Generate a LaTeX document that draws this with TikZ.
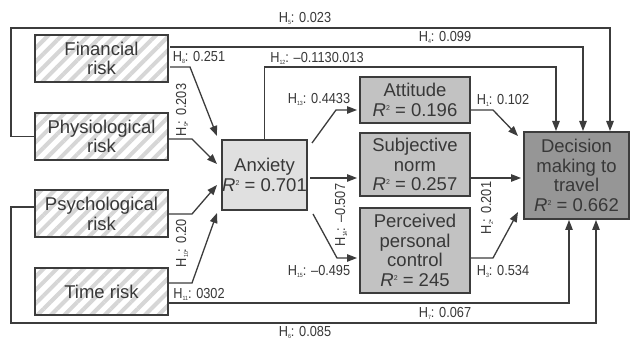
\documentclass[tikz,border=0pt]{standalone}
\usepackage{fontspec}
\setmainfont{Liberation Sans}
\newfontfamily\narrowfont[FakeStretch=0.88]{Liberation Sans}
\usepackage{xcolor}
\usepackage{tikz}
\usetikzlibrary{arrows.meta, patterns.meta}

\definecolor{boxline}{HTML}{3C3C3C}
\definecolor{txtgray}{HTML}{383838}
\definecolor{stripe}{HTML}{D6D6D6}
\definecolor{anxfill}{HTML}{E0E0E0}
\definecolor{midfill}{HTML}{C2C2C2}
\definecolor{decfill}{HTML}{969696}

\newcommand{\hyp}[2]{H\raisebox{-2pt}{\fontsize{6}{6}\selectfont #1}: #2}
\newcommand{\rsq}[1]{\textit{R}\raisebox{6pt}{\fontsize{7}{7}\selectfont 2} = #1}

\begin{document}
\begin{tikzpicture}[x=1pt, y=-1pt, >={Triangle[length=10pt,width=7.5pt]},
    box/.style={draw=boxline, line width=2pt, inner sep=0pt, align=center,
      text=txtgray, font=\fontsize{18.5}{19.5}\selectfont},
    riskbox/.style={box, minimum width=133pt, minimum height=47pt,
      pattern={Lines[angle=45, distance=9.5pt, line width=4pt]}, pattern color=stripe},
    midbox/.style={box, fill=midfill, minimum width=110pt},
    conn/.style={draw=boxline, line width=1.3pt},
    hlabel/.style={text=txtgray, inner sep=1pt, font=\narrowfont\fontsize{14.5}{15}\selectfont}]

    % fond
    \fill[white] (0,0) rectangle (632,338);

    % facteurs de risque
    \node[riskbox] (fin) at (101.5,58.5) {Financial\\risk};
    \node[riskbox] (phys) at (101.5,136.5) {Physiological\\risk};
    \node[riskbox] (psych) at (101.5,214) {Psychological\\risk};
    \node[riskbox] (time) at (101.5,291.5) {Time risk};

    % variables
    \node[box, fill=anxfill, minimum width=85pt, minimum height=70pt] (anx) at (264.5,175) {Anxiety\\\rsq{0.701}};
    \node[midbox, minimum height=46pt] (att) at (415,100) {Attitude\\\rsq{0.196}};
    \node[midbox, minimum height=63pt] (subj) at (415,164.5) {Subjective\\norm\\\rsq{0.257}};
    \node[midbox, minimum height=85pt] (ppc) at (415,250.5) {Perceived\\personal\\control\\\rsq{245}};
    \node[box, fill=decfill, minimum width=105pt, minimum height=87pt] (dec) at (576.5,175.5) {Decision\\making to\\travel\\\rsq{0.662}};

    % liens directs vers la décision
    \draw[conn, ->] (phys.west) -- (11,0 |- phys.west) |- (610,28) -- (610,0 |- dec.north);
    \draw[conn, ->] (fin.east |- 0,47) -- (583,47) -- (583,0 |- dec.north);
    \draw[conn, ->] (anx.north) |- (556,67) -- (556,0 |- dec.north);
    \draw[conn, ->] (psych.west |- 0,207) -- (11,207) |- (596,323) -- (596,0 |- dec.south);
    \draw[conn, ->] (time.east |- 0,303) -- (569,303) -- (569,0 |- dec.south);

    % risques -> anxiété
    \draw[conn, ->] (fin.east |- 0,67) -- (190,67) -- ([shift={(-4,-3)}]anx.north west);
    \draw[conn, ->] (phys.east |- 0,139) -- (192,139) -- ([shift={(-4,-11)}]anx.west);
    \draw[conn, ->] (psych.east) -- (192,214) -- ([shift={(-4,10)}]anx.west);
    \draw[conn, ->] (time.east |- 0,283) -- (192,283) -- ([shift={(-4,2)}]anx.south west);

    % anxiété -> attitudes
    \draw[conn, ->] ([shift={(4,4)}]anx.north east) -- (336,110) -- ([xshift=-2pt]att.west |- 0,110);
    \draw[conn, ->] ([xshift=2pt]anx.east |- 0,178) -- ([xshift=-2pt]subj.west |- 0,178);
    \draw[conn, ->] ([shift={(5,3)}]anx.south east) -- (337,258) -- ([xshift=-2pt]ppc.west |- 0,258);

    % attitudes -> décision
    \draw[conn, ->] (att.east |- 0,110) -- (493,110) -- ([shift={(-5,5)}]dec.north west);
    \draw[conn, ->] (subj.east |- 0,178) -- ([xshift=-2pt]dec.west |- 0,178);
    \draw[conn, ->] (ppc.east |- 0,258) -- (493,258) -- ([shift={(-5,-8)}]dec.south west);

    % coefficients
    \node[hlabel] (l5) at (305,18) {\hyp{5}{0.023}};
    \node[hlabel] (l4) at (445,37) {\hyp{4}{0.099}};
    \node[hlabel] (l12) at (317,58) {\hyp{12}{–0.1130.013}};
    \node[hlabel] (l8) at (199,57) {\hyp{8}{0.251}};
    \node[hlabel, rotate=90] (l9) at (182,110) {\hyp{9}{0.203}};
    \node[hlabel, rotate=90] (l10) at (182,243) {\hyp{10}{0.20}};
    \node[hlabel] (l11) at (199,294) {\hyp{11}{0302}};
    \node[hlabel] (l13) at (319,99) {\hyp{13}{0.4433}};
    \node[hlabel, rotate=90] (l14) at (341,215) {\hyp{14}{–0.507}};
    \node[hlabel] (l15) at (319,271) {\hyp{15}{–0.495}};
    \node[hlabel] (l1) at (503,100) {\hyp{1}{0.102}};
    \node[hlabel, rotate=90] (l2) at (487,208) {\hyp{2}{0.201}};
    \node[hlabel] (l3) at (503,271) {\hyp{3}{0.534}};
    \node[hlabel] (l7) at (445,313) {\hyp{7}{0.067}};
    \node[hlabel] (l6) at (305,332) {\hyp{6}{0.085}};
\end{tikzpicture}
\end{document}
